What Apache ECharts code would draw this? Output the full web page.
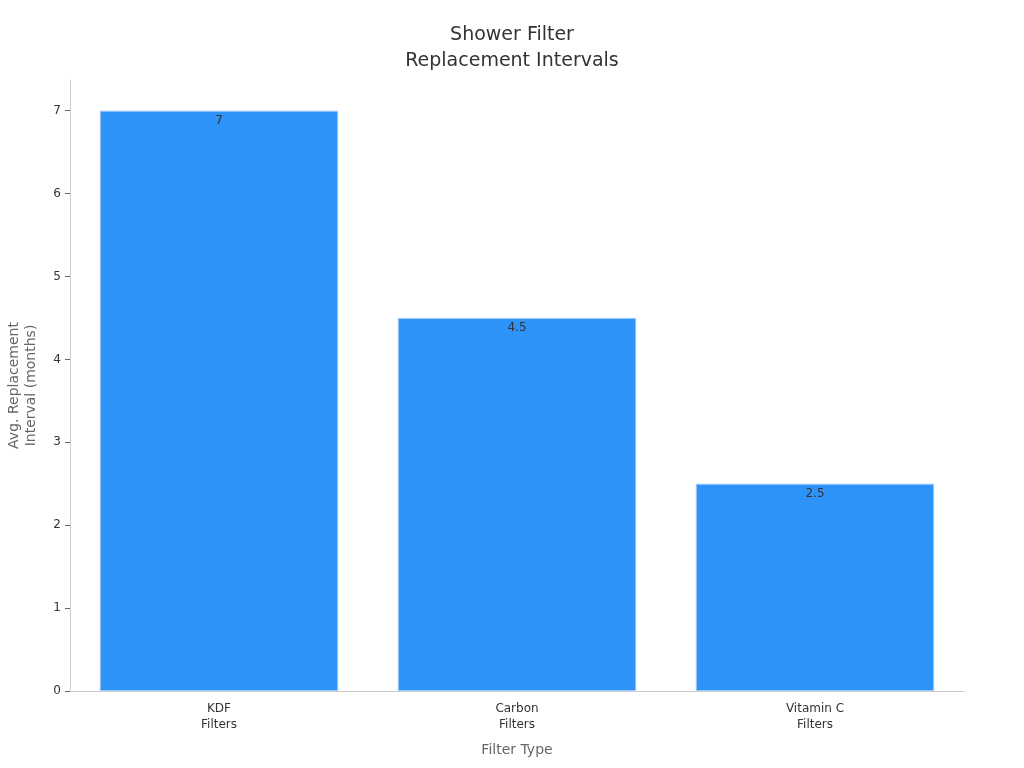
<!DOCTYPE html>
<html><head><meta charset="utf-8">
<script src="https://cdn.jsdelivr.net/npm/echarts@6/dist/echarts.min.js"></script>
<style>html,body{margin:0;padding:0;background:#fff}#c{width:1024px;height:768px}</style>
</head><body><div id="c"></div>
<script>
const categories = ['KDF\nFilters', 'Carbon\nFilters', 'Vitamin C\nFilters'];
const intervals = [7, 4.5, 2.5];
const yTicks = [0, 1, 2, 3, 4, 5, 6, 7];

const chart = echarts.init(document.getElementById('c'));
chart.setOption({
  backgroundColor: '#fff',
  textStyle: { fontFamily: 'DejaVu Sans' },
  title: {
    text: 'Shower Filter\nReplacement Intervals',
    left: 'center', top: 17,
    textStyle: { fontSize: 19, fontWeight: 'normal', color: '#333', lineHeight: 26, fontFamily: 'DejaVu Sans' }
  },
  grid: { left: 70, right: 60, top: 80, bottom: 77, containLabel: false, outerBoundsMode: 'none' },
  xAxis: {
    type: 'category',
    data: categories,
    name: 'Filter Type',
    nameLocation: 'middle',
    nameGap: 52,
    nameTextStyle: { fontSize: 14, color: '#666' },
    axisLine: { lineStyle: { color: '#ccc' } },
    axisTick: { alignWithLabel: true, lineStyle: { color: '#666' }, length: 5 },
    axisLabel: { fontSize: 12, color: '#333', lineHeight: 16, margin: 10 }
  },
  yAxis: {
    type: 'value',
    min: 0, max: 7.37, interval: 1,
    name: 'Avg. Replacement\nInterval (months)',
    nameLocation: 'middle',
    nameGap: 30,
    nameTextStyle: { fontSize: 14, color: '#666', lineHeight: 17 },
    axisLine: { show: true, lineStyle: { color: '#ccc' } },
    axisTick: { show: true, length: 5, lineStyle: { color: '#666' }, customValues: yTicks },
    axisLabel: { fontSize: 12, color: '#333', margin: 9, customValues: yTicks },
    splitLine: { show: false }
  },
  series: [{
    type: 'bar',
    data: intervals,
    barCategoryGap: '20%',
    itemStyle: { color: '#2E93F8', borderColor: '#9ccbfb', borderWidth: 1 },
    label: { show: true, position: 'insideTop', distance: 4, fontSize: 12, color: '#333' }
  }]
});
</script></body></html>
